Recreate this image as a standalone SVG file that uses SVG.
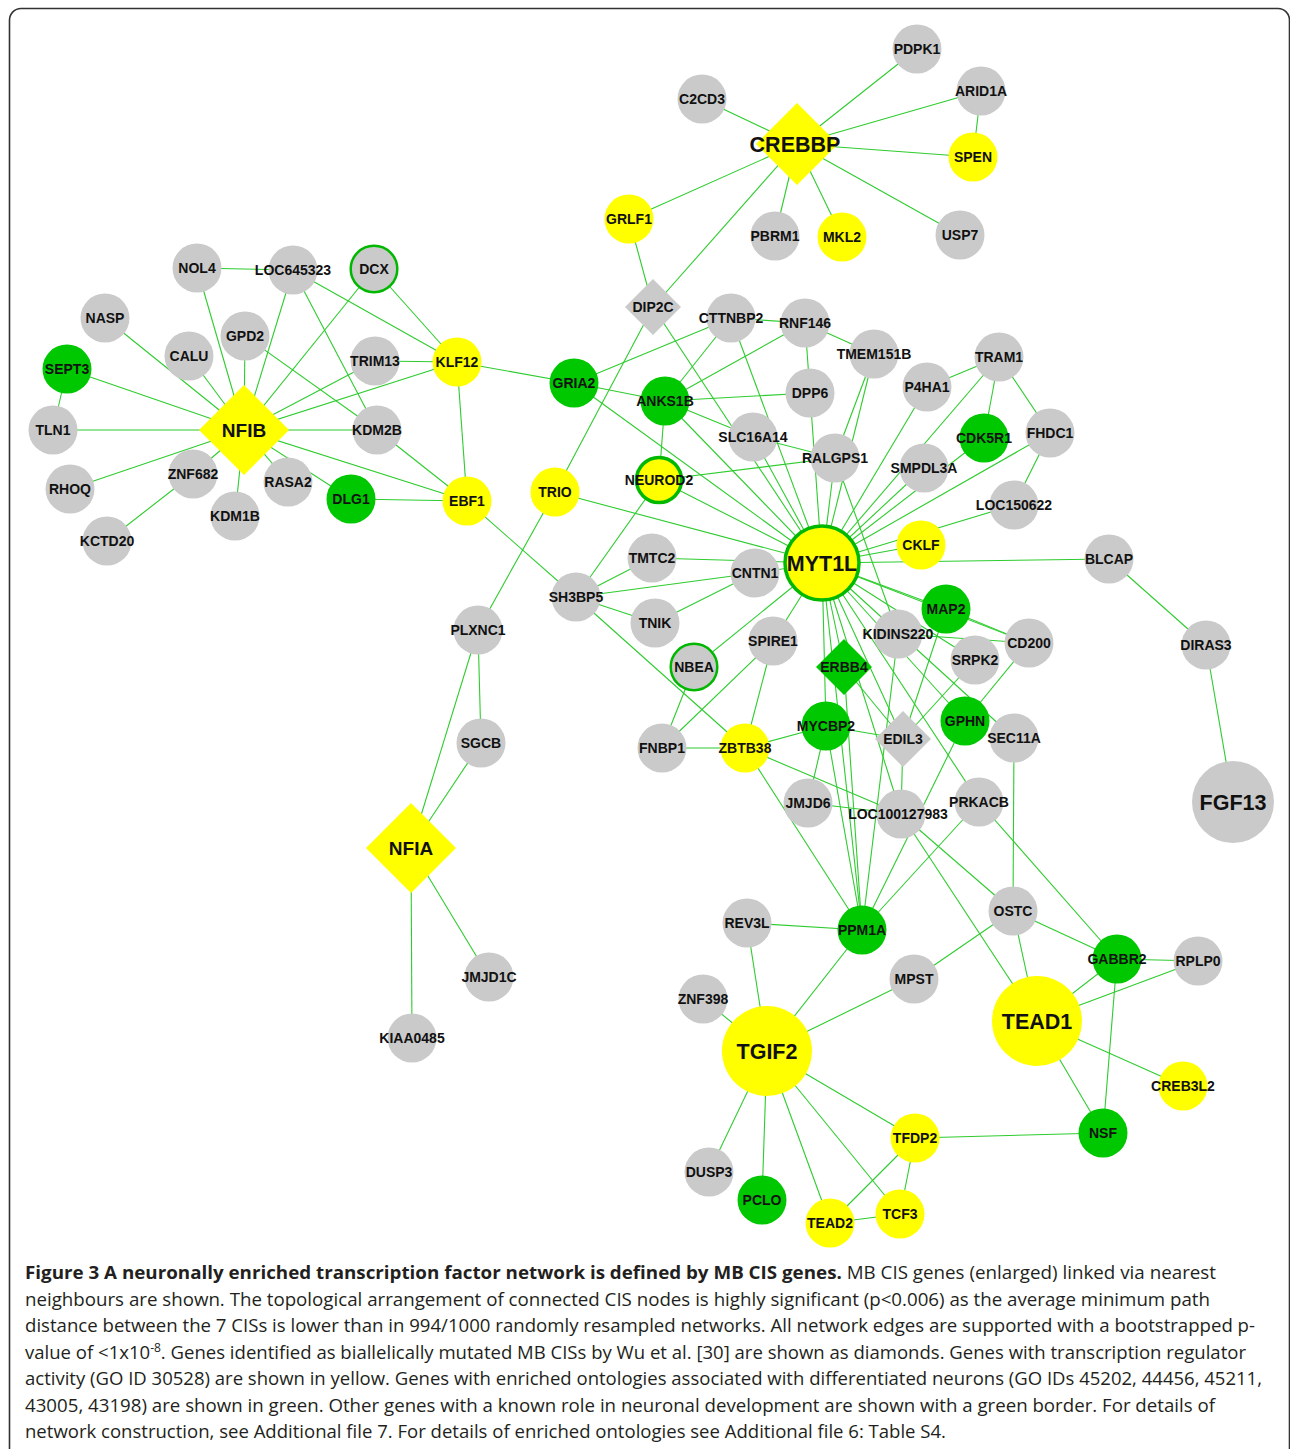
<svg xmlns="http://www.w3.org/2000/svg" width="1290" height="1449" viewBox="0 0 1290 1449">
<style>
.frame{fill:none;stroke:#333;stroke-width:1.6}
.e line{stroke:#2ecc2e;stroke-width:1.1}
.g{fill:#cacaca}
.y{fill:#ffff00}
.gr{fill:#00c800}
.bd{stroke:#00b800;stroke-width:2.5}
.bd3{stroke:#00b800;stroke-width:3.5}
text{font-family:"Liberation Sans",Arial,sans-serif;font-weight:bold;fill:#111;text-anchor:middle}
.s{font-size:14px}
.m{font-size:19px}
.b{font-size:21.5px}
.cap{font-family:"Open Sans","Noto Sans",sans-serif;font-weight:normal;font-size:18.5px;fill:#231f20;text-anchor:start}
.capb{font-weight:bold}
</style>
<rect x="0" y="0" width="1290" height="1449" fill="#fff"/>
<path class="frame" d="M9.5 1460 V20 A11.5 11.5 0 0 1 21 8.5 H1278 A11.5 11.5 0 0 1 1289.5 20 V1460"/>
<g id="connectors" class="e">
<line x1="797" y1="144" x2="702" y2="99"/>
<line x1="797" y1="144" x2="917" y2="49"/>
<line x1="797" y1="144" x2="981" y2="91"/>
<line x1="797" y1="144" x2="973" y2="157"/>
<line x1="797" y1="144" x2="960" y2="235"/>
<line x1="797" y1="144" x2="842" y2="237"/>
<line x1="797" y1="144" x2="775" y2="236"/>
<line x1="797" y1="144" x2="629" y2="219"/>
<line x1="797" y1="144" x2="653" y2="307"/>
<line x1="981" y1="91" x2="973" y2="157"/>
<line x1="629" y1="219" x2="653" y2="307"/>
<line x1="653" y1="307" x2="555" y2="492"/>
<line x1="653" y1="307" x2="822" y2="563"/>
<line x1="197" y1="268" x2="293" y2="270"/>
<line x1="197" y1="268" x2="244" y2="430"/>
<line x1="293" y1="270" x2="244" y2="430"/>
<line x1="293" y1="270" x2="457" y2="362"/>
<line x1="293" y1="270" x2="377" y2="430"/>
<line x1="374" y1="269" x2="244" y2="430"/>
<line x1="374" y1="269" x2="457" y2="362"/>
<line x1="105" y1="318" x2="244" y2="430"/>
<line x1="189" y1="356" x2="244" y2="430"/>
<line x1="245" y1="336" x2="244" y2="430"/>
<line x1="245" y1="336" x2="377" y2="430"/>
<line x1="67" y1="369" x2="244" y2="430"/>
<line x1="67" y1="369" x2="53" y2="430"/>
<line x1="375" y1="361" x2="244" y2="430"/>
<line x1="375" y1="361" x2="457" y2="362"/>
<line x1="244" y1="430" x2="457" y2="362"/>
<line x1="244" y1="430" x2="53" y2="430"/>
<line x1="244" y1="430" x2="377" y2="430"/>
<line x1="244" y1="430" x2="70" y2="489"/>
<line x1="244" y1="430" x2="193" y2="474"/>
<line x1="244" y1="430" x2="235" y2="516"/>
<line x1="244" y1="430" x2="288" y2="482"/>
<line x1="244" y1="430" x2="351" y2="499"/>
<line x1="244" y1="430" x2="467" y2="501"/>
<line x1="193" y1="474" x2="107" y2="541"/>
<line x1="377" y1="430" x2="467" y2="501"/>
<line x1="351" y1="499" x2="467" y2="501"/>
<line x1="457" y1="362" x2="574" y2="383"/>
<line x1="457" y1="362" x2="467" y2="501"/>
<line x1="467" y1="501" x2="576" y2="597"/>
<line x1="574" y1="383" x2="731" y2="318"/>
<line x1="574" y1="383" x2="665" y2="401"/>
<line x1="574" y1="383" x2="822" y2="563"/>
<line x1="665" y1="401" x2="731" y2="318"/>
<line x1="665" y1="401" x2="805" y2="323"/>
<line x1="665" y1="401" x2="810" y2="393"/>
<line x1="665" y1="401" x2="659" y2="480"/>
<line x1="665" y1="401" x2="822" y2="563"/>
<line x1="665" y1="401" x2="753" y2="437"/>
<line x1="731" y1="318" x2="805" y2="323"/>
<line x1="731" y1="318" x2="822" y2="563"/>
<line x1="805" y1="323" x2="810" y2="393"/>
<line x1="805" y1="323" x2="874" y2="354"/>
<line x1="810" y1="393" x2="822" y2="563"/>
<line x1="874" y1="354" x2="822" y2="563"/>
<line x1="874" y1="354" x2="835" y2="458"/>
<line x1="753" y1="437" x2="835" y2="458"/>
<line x1="753" y1="437" x2="822" y2="563"/>
<line x1="835" y1="458" x2="659" y2="480"/>
<line x1="835" y1="458" x2="822" y2="563"/>
<line x1="835" y1="458" x2="898" y2="634"/>
<line x1="659" y1="480" x2="822" y2="563"/>
<line x1="659" y1="480" x2="576" y2="597"/>
<line x1="555" y1="492" x2="478" y2="630"/>
<line x1="555" y1="492" x2="822" y2="563"/>
<line x1="927" y1="387" x2="999" y2="357"/>
<line x1="927" y1="387" x2="822" y2="563"/>
<line x1="999" y1="357" x2="984" y2="438"/>
<line x1="999" y1="357" x2="1050" y2="433"/>
<line x1="999" y1="357" x2="822" y2="563"/>
<line x1="984" y1="438" x2="822" y2="563"/>
<line x1="924" y1="468" x2="822" y2="563"/>
<line x1="1050" y1="433" x2="1014" y2="505"/>
<line x1="1050" y1="433" x2="822" y2="563"/>
<line x1="1014" y1="505" x2="822" y2="563"/>
<line x1="921" y1="545" x2="822" y2="563"/>
<line x1="822" y1="563" x2="1109" y2="559"/>
<line x1="1109" y1="559" x2="1206" y2="645"/>
<line x1="1206" y1="645" x2="1233" y2="802"/>
<line x1="822" y1="563" x2="946" y2="609"/>
<line x1="822" y1="563" x2="1029" y2="643"/>
<line x1="946" y1="609" x2="1029" y2="643"/>
<line x1="946" y1="609" x2="903" y2="739"/>
<line x1="822" y1="563" x2="1014" y2="738"/>
<line x1="898" y1="634" x2="1029" y2="643"/>
<line x1="898" y1="634" x2="862" y2="930"/>
<line x1="822" y1="563" x2="975" y2="660"/>
<line x1="975" y1="660" x2="903" y2="739"/>
<line x1="822" y1="563" x2="965" y2="721"/>
<line x1="965" y1="721" x2="1029" y2="643"/>
<line x1="965" y1="721" x2="862" y2="930"/>
<line x1="822" y1="563" x2="979" y2="802"/>
<line x1="979" y1="802" x2="862" y2="930"/>
<line x1="979" y1="802" x2="1117" y2="959"/>
<line x1="822" y1="563" x2="903" y2="739"/>
<line x1="844" y1="667" x2="903" y2="739"/>
<line x1="903" y1="739" x2="901" y2="814"/>
<line x1="826" y1="726" x2="903" y2="739"/>
<line x1="822" y1="563" x2="901" y2="814"/>
<line x1="822" y1="563" x2="844" y2="667"/>
<line x1="844" y1="667" x2="862" y2="930"/>
<line x1="822" y1="563" x2="826" y2="726"/>
<line x1="826" y1="726" x2="862" y2="930"/>
<line x1="826" y1="726" x2="808" y2="803"/>
<line x1="822" y1="563" x2="862" y2="930"/>
<line x1="822" y1="563" x2="773" y2="641"/>
<line x1="822" y1="563" x2="694" y2="667"/>
<line x1="822" y1="563" x2="755" y2="573"/>
<line x1="652" y1="558" x2="822" y2="563"/>
<line x1="773" y1="641" x2="745" y2="748"/>
<line x1="773" y1="641" x2="662" y2="748"/>
<line x1="694" y1="667" x2="662" y2="748"/>
<line x1="662" y1="748" x2="745" y2="748"/>
<line x1="745" y1="748" x2="826" y2="726"/>
<line x1="745" y1="748" x2="901" y2="814"/>
<line x1="745" y1="748" x2="862" y2="930"/>
<line x1="576" y1="597" x2="745" y2="748"/>
<line x1="576" y1="597" x2="652" y2="558"/>
<line x1="576" y1="597" x2="755" y2="573"/>
<line x1="576" y1="597" x2="655" y2="623"/>
<line x1="655" y1="623" x2="755" y2="573"/>
<line x1="808" y1="803" x2="901" y2="814"/>
<line x1="901" y1="814" x2="1013" y2="911"/>
<line x1="901" y1="814" x2="1037" y2="1021"/>
<line x1="1014" y1="738" x2="1013" y2="911"/>
<line x1="1013" y1="911" x2="1117" y2="959"/>
<line x1="1117" y1="959" x2="1198" y2="961"/>
<line x1="1013" y1="911" x2="914" y2="979"/>
<line x1="1013" y1="911" x2="1037" y2="1021"/>
<line x1="914" y1="979" x2="767" y2="1051"/>
<line x1="1117" y1="959" x2="1037" y2="1021"/>
<line x1="1198" y1="961" x2="1037" y2="1021"/>
<line x1="1117" y1="959" x2="1103" y2="1133"/>
<line x1="1037" y1="1021" x2="1103" y2="1133"/>
<line x1="1037" y1="1021" x2="1183" y2="1086"/>
<line x1="915" y1="1138" x2="1103" y2="1133"/>
<line x1="915" y1="1138" x2="900" y2="1214"/>
<line x1="915" y1="1138" x2="830" y2="1223"/>
<line x1="767" y1="1051" x2="915" y2="1138"/>
<line x1="767" y1="1051" x2="900" y2="1214"/>
<line x1="830" y1="1223" x2="900" y2="1214"/>
<line x1="767" y1="1051" x2="747" y2="923"/>
<line x1="767" y1="1051" x2="862" y2="930"/>
<line x1="767" y1="1051" x2="703" y2="999"/>
<line x1="767" y1="1051" x2="709" y2="1172"/>
<line x1="767" y1="1051" x2="762" y2="1200"/>
<line x1="767" y1="1051" x2="830" y2="1223"/>
<line x1="747" y1="923" x2="862" y2="930"/>
<line x1="478" y1="630" x2="481" y2="743"/>
<line x1="478" y1="630" x2="411" y2="848"/>
<line x1="481" y1="743" x2="411" y2="848"/>
<line x1="411" y1="848" x2="489" y2="977"/>
<line x1="411" y1="848" x2="412" y2="1038"/>
</g>
<g id="nodes">
<g id="n-CREBBP"><polygon class="y" points="797,103 838,144 797,185 756,144"/><text class="b" x="795" y="152">CREBBP</text></g>
<g id="n-C2CD3"><circle class="g" cx="702" cy="99" r="24.5"/><text class="s" x="702" y="104">C2CD3</text></g>
<g id="n-PDPK1"><circle class="g" cx="917" cy="49" r="24.5"/><text class="s" x="917" y="54">PDPK1</text></g>
<g id="n-ARID1A"><circle class="g" cx="981" cy="91" r="24.5"/><text class="s" x="981" y="96">ARID1A</text></g>
<g id="n-SPEN"><circle class="y" cx="973" cy="157" r="24.5"/><text class="s" x="973" y="162">SPEN</text></g>
<g id="n-USP7"><circle class="g" cx="960" cy="235" r="24.5"/><text class="s" x="960" y="240">USP7</text></g>
<g id="n-PBRM1"><circle class="g" cx="775" cy="236" r="24.5"/><text class="s" x="775" y="241">PBRM1</text></g>
<g id="n-MKL2"><circle class="y" cx="842" cy="237" r="24.5"/><text class="s" x="842" y="242">MKL2</text></g>
<g id="n-GRLF1"><circle class="y" cx="629" cy="219" r="24.5"/><text class="s" x="629" y="224">GRLF1</text></g>
<g id="n-DIP2C"><polygon class="g" points="653,279 681,307 653,335 625,307"/><text class="s" x="653" y="312">DIP2C</text></g>
<g id="n-NOL4"><circle class="g" cx="197" cy="268" r="24.5"/><text class="s" x="197" y="273">NOL4</text></g>
<g id="n-LOC645323"><circle class="g" cx="293" cy="270" r="24.5"/><text class="s" x="293" y="275">LOC645323</text></g>
<g id="n-DCX"><circle class="g bd" cx="374" cy="269" r="23.3"/><text class="s" x="374" y="274">DCX</text></g>
<g id="n-NASP"><circle class="g" cx="105" cy="318" r="24.5"/><text class="s" x="105" y="323">NASP</text></g>
<g id="n-GPD2"><circle class="g" cx="245" cy="336" r="24.5"/><text class="s" x="245" y="341">GPD2</text></g>
<g id="n-CALU"><circle class="g" cx="189" cy="356" r="24.5"/><text class="s" x="189" y="361">CALU</text></g>
<g id="n-SEPT3"><circle class="gr" cx="67" cy="369" r="24.5"/><text class="s" x="67" y="374">SEPT3</text></g>
<g id="n-TRIM13"><circle class="g" cx="375" cy="361" r="24.5"/><text class="s" x="375" y="366">TRIM13</text></g>
<g id="n-KLF12"><circle class="y" cx="457" cy="362" r="24.5"/><text class="s" x="457" y="367">KLF12</text></g>
<g id="n-TLN1"><circle class="g" cx="53" cy="430" r="24.5"/><text class="s" x="53" y="435">TLN1</text></g>
<g id="n-NFIB"><polygon class="y" points="244,385 289,430 244,475 199,430"/><text class="m" x="244" y="437">NFIB</text></g>
<g id="n-KDM2B"><circle class="g" cx="377" cy="430" r="24.5"/><text class="s" x="377" y="435">KDM2B</text></g>
<g id="n-RHOQ"><circle class="g" cx="70" cy="489" r="24.5"/><text class="s" x="70" y="494">RHOQ</text></g>
<g id="n-ZNF682"><circle class="g" cx="193" cy="474" r="24.5"/><text class="s" x="193" y="479">ZNF682</text></g>
<g id="n-RASA2"><circle class="g" cx="288" cy="482" r="24.5"/><text class="s" x="288" y="487">RASA2</text></g>
<g id="n-DLG1"><circle class="gr" cx="351" cy="499" r="24.5"/><text class="s" x="351" y="504">DLG1</text></g>
<g id="n-KDM1B"><circle class="g" cx="235" cy="516" r="24.5"/><text class="s" x="235" y="521">KDM1B</text></g>
<g id="n-KCTD20"><circle class="g" cx="107" cy="541" r="24.5"/><text class="s" x="107" y="546">KCTD20</text></g>
<g id="n-EBF1"><circle class="y" cx="467" cy="501" r="24.5"/><text class="s" x="467" y="506">EBF1</text></g>
<g id="n-CTTNBP2"><circle class="g" cx="731" cy="318" r="24.5"/><text class="s" x="731" y="323">CTTNBP2</text></g>
<g id="n-RNF146"><circle class="g" cx="805" cy="323" r="24.5"/><text class="s" x="805" y="328">RNF146</text></g>
<g id="n-GRIA2"><circle class="gr" cx="574" cy="383" r="24.5"/><text class="s" x="574" y="388">GRIA2</text></g>
<g id="n-ANKS1B"><circle class="gr" cx="665" cy="401" r="24.5"/><text class="s" x="665" y="406">ANKS1B</text></g>
<g id="n-DPP6"><circle class="g" cx="810" cy="393" r="24.5"/><text class="s" x="810" y="398">DPP6</text></g>
<g id="n-TMEM151B"><circle class="g" cx="874" cy="354" r="24.5"/><text class="s" x="874" y="359">TMEM151B</text></g>
<g id="n-TRAM1"><circle class="g" cx="999" cy="357" r="24.5"/><text class="s" x="999" y="362">TRAM1</text></g>
<g id="n-P4HA1"><circle class="g" cx="927" cy="387" r="24.5"/><text class="s" x="927" y="392">P4HA1</text></g>
<g id="n-SLC16A14"><circle class="g" cx="753" cy="437" r="24.5"/><text class="s" x="753" y="442">SLC16A14</text></g>
<g id="n-RALGPS1"><circle class="g" cx="835" cy="458" r="24.5"/><text class="s" x="835" y="463">RALGPS1</text></g>
<g id="n-CDK5R1"><circle class="gr" cx="984" cy="438" r="24.5"/><text class="s" x="984" y="443">CDK5R1</text></g>
<g id="n-FHDC1"><circle class="g" cx="1050" cy="433" r="24.5"/><text class="s" x="1050" y="438">FHDC1</text></g>
<g id="n-SMPDL3A"><circle class="g" cx="924" cy="468" r="24.5"/><text class="s" x="924" y="473">SMPDL3A</text></g>
<g id="n-NEUROD2"><circle class="y bd3" cx="659" cy="480" r="22.5"/><text class="s" x="659" y="485">NEUROD2</text></g>
<g id="n-TRIO"><circle class="y" cx="555" cy="492" r="24.5"/><text class="s" x="555" y="497">TRIO</text></g>
<g id="n-LOC150622"><circle class="g" cx="1014" cy="505" r="24.5"/><text class="s" x="1014" y="510">LOC150622</text></g>
<g id="n-CKLF"><circle class="y" cx="921" cy="545" r="24.5"/><text class="s" x="921" y="550">CKLF</text></g>
<g id="n-BLCAP"><circle class="g" cx="1109" cy="559" r="24.5"/><text class="s" x="1109" y="564">BLCAP</text></g>
<g id="n-MYT1L"><circle class="y bd3" cx="822" cy="563" r="37"/><text class="b" x="822" y="571">MYT1L</text></g>
<g id="n-TMTC2"><circle class="g" cx="652" cy="558" r="24.5"/><text class="s" x="652" y="563">TMTC2</text></g>
<g id="n-CNTN1"><circle class="g" cx="755" cy="573" r="24.5"/><text class="s" x="755" y="578">CNTN1</text></g>
<g id="n-SH3BP5"><circle class="g" cx="576" cy="597" r="24.5"/><text class="s" x="576" y="602">SH3BP5</text></g>
<g id="n-TNIK"><circle class="g" cx="655" cy="623" r="24.5"/><text class="s" x="655" y="628">TNIK</text></g>
<g id="n-PLXNC1"><circle class="g" cx="478" cy="630" r="24.5"/><text class="s" x="478" y="635">PLXNC1</text></g>
<g id="n-MAP2"><circle class="gr" cx="946" cy="609" r="24.5"/><text class="s" x="946" y="614">MAP2</text></g>
<g id="n-KIDINS220"><circle class="g" cx="898" cy="634" r="24.5"/><text class="s" x="898" y="639">KIDINS220</text></g>
<g id="n-CD200"><circle class="g" cx="1029" cy="643" r="24.5"/><text class="s" x="1029" y="648">CD200</text></g>
<g id="n-DIRAS3"><circle class="g" cx="1206" cy="645" r="24.5"/><text class="s" x="1206" y="650">DIRAS3</text></g>
<g id="n-SPIRE1"><circle class="g" cx="773" cy="641" r="24.5"/><text class="s" x="773" y="646">SPIRE1</text></g>
<g id="n-NBEA"><circle class="g bd" cx="694" cy="667" r="23.3"/><text class="s" x="694" y="672">NBEA</text></g>
<g id="n-ERBB4"><polygon class="gr" points="844,639 872,667 844,695 816,667"/><text class="s" x="844" y="672">ERBB4</text></g>
<g id="n-SRPK2"><circle class="g" cx="975" cy="660" r="24.5"/><text class="s" x="975" y="665">SRPK2</text></g>
<g id="n-GPHN"><circle class="gr" cx="965" cy="721" r="24.5"/><text class="s" x="965" y="726">GPHN</text></g>
<g id="n-EDIL3"><polygon class="g" points="903,711 931,739 903,767 875,739"/><text class="s" x="903" y="744">EDIL3</text></g>
<g id="n-SEC11A"><circle class="g" cx="1014" cy="738" r="24.5"/><text class="s" x="1014" y="743">SEC11A</text></g>
<g id="n-MYCBP2"><circle class="gr" cx="826" cy="726" r="24.5"/><text class="s" x="826" y="731">MYCBP2</text></g>
<g id="n-SGCB"><circle class="g" cx="481" cy="743" r="24.5"/><text class="s" x="481" y="748">SGCB</text></g>
<g id="n-FNBP1"><circle class="g" cx="662" cy="748" r="24.5"/><text class="s" x="662" y="753">FNBP1</text></g>
<g id="n-ZBTB38"><circle class="y" cx="745" cy="748" r="24.5"/><text class="s" x="745" y="753">ZBTB38</text></g>
<g id="n-JMJD6"><circle class="g" cx="808" cy="803" r="24.5"/><text class="s" x="808" y="808">JMJD6</text></g>
<g id="n-LOC100127983"><circle class="g" cx="901" cy="814" r="24.5"/><text class="s" x="898" y="819">LOC100127983</text></g>
<g id="n-PRKACB"><circle class="g" cx="979" cy="802" r="24.5"/><text class="s" x="979" y="807">PRKACB</text></g>
<g id="n-FGF13"><circle class="g" cx="1233" cy="802" r="41"/><text class="b" x="1233" y="810">FGF13</text></g>
<g id="n-NFIA"><polygon class="y" points="411,803 456,848 411,893 366,848"/><text class="m" x="411" y="855">NFIA</text></g>
<g id="n-OSTC"><circle class="g" cx="1013" cy="911" r="24.5"/><text class="s" x="1013" y="916">OSTC</text></g>
<g id="n-REV3L"><circle class="g" cx="747" cy="923" r="24.5"/><text class="s" x="747" y="928">REV3L</text></g>
<g id="n-PPM1A"><circle class="gr" cx="862" cy="930" r="24.5"/><text class="s" x="862" y="935">PPM1A</text></g>
<g id="n-GABBR2"><circle class="gr" cx="1117" cy="959" r="24.5"/><text class="s" x="1117" y="964">GABBR2</text></g>
<g id="n-RPLP0"><circle class="g" cx="1198" cy="961" r="24.5"/><text class="s" x="1198" y="966">RPLP0</text></g>
<g id="n-JMJD1C"><circle class="g" cx="489" cy="977" r="24.5"/><text class="s" x="489" y="982">JMJD1C</text></g>
<g id="n-MPST"><circle class="g" cx="914" cy="979" r="24.5"/><text class="s" x="914" y="984">MPST</text></g>
<g id="n-ZNF398"><circle class="g" cx="703" cy="999" r="24.5"/><text class="s" x="703" y="1004">ZNF398</text></g>
<g id="n-TEAD1"><circle class="y" cx="1037" cy="1021" r="45"/><text class="b" x="1037" y="1029">TEAD1</text></g>
<g id="n-KIAA0485"><circle class="g" cx="412" cy="1038" r="24.5"/><text class="s" x="412" y="1043">KIAA0485</text></g>
<g id="n-TGIF2"><circle class="y" cx="767" cy="1051" r="45"/><text class="b" x="767" y="1059">TGIF2</text></g>
<g id="n-CREB3L2"><circle class="y" cx="1183" cy="1086" r="24.5"/><text class="s" x="1183" y="1091">CREB3L2</text></g>
<g id="n-NSF"><circle class="gr" cx="1103" cy="1133" r="24.5"/><text class="s" x="1103" y="1138">NSF</text></g>
<g id="n-TFDP2"><circle class="y" cx="915" cy="1138" r="24.5"/><text class="s" x="915" y="1143">TFDP2</text></g>
<g id="n-DUSP3"><circle class="g" cx="709" cy="1172" r="24.5"/><text class="s" x="709" y="1177">DUSP3</text></g>
<g id="n-PCLO"><circle class="gr" cx="762" cy="1200" r="24.5"/><text class="s" x="762" y="1205">PCLO</text></g>
<g id="n-TCF3"><circle class="y" cx="900" cy="1214" r="24.5"/><text class="s" x="900" y="1219">TCF3</text></g>
<g id="n-TEAD2"><circle class="y" cx="830" cy="1223" r="24.5"/><text class="s" x="830" y="1228">TEAD2</text></g>
</g>
<g id="caption">
<text class="cap" x="25" y="1279" textLength="1191" lengthAdjust="spacingAndGlyphs"><tspan class="capb">Figure 3 A neuronally enriched transcription factor network is defined by MB CIS genes.</tspan> MB CIS genes (enlarged) linked via nearest</text>
<text class="cap" x="25" y="1305.5" textLength="1185" lengthAdjust="spacingAndGlyphs">neighbours are shown. The topological arrangement of connected CIS nodes is highly significant (p&lt;0.006) as the average minimum path</text>
<text class="cap" x="25" y="1332" textLength="1230" lengthAdjust="spacingAndGlyphs">distance between the 7 CISs is lower than in 994/1000 randomly resampled networks. All network edges are supported with a bootstrapped p-</text>
<text class="cap" x="25" y="1358.5" textLength="1221" lengthAdjust="spacingAndGlyphs">value of &lt;1x10<tspan font-size="12" dy="-7">-8</tspan><tspan dy="7">. Genes identified as biallelically mutated MB CISs by Wu et al. [30] are shown as diamonds. Genes with transcription regulator</tspan></text>
<text class="cap" x="25" y="1385" textLength="1237" lengthAdjust="spacingAndGlyphs">activity (GO ID 30528) are shown in yellow. Genes with enriched ontologies associated with differentiated neurons (GO IDs 45202, 44456, 45211,</text>
<text class="cap" x="25" y="1411.5" textLength="1190" lengthAdjust="spacingAndGlyphs">43005, 43198) are shown in green. Other genes with a known role in neuronal development are shown with a green border. For details of</text>
<text class="cap" x="25" y="1438" textLength="921" lengthAdjust="spacingAndGlyphs">network construction, see Additional file 7. For details of enriched ontologies see Additional file 6: Table S4.</text>
</g>
</svg>
